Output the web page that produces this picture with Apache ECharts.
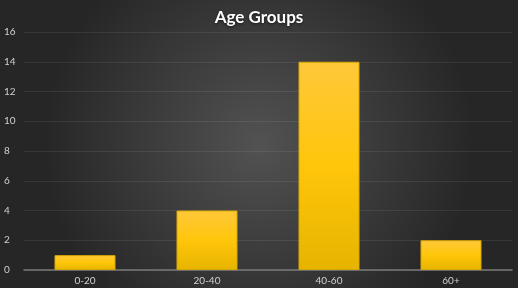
<!DOCTYPE html>
<html><head><meta charset="utf-8">
<script src="https://cdn.jsdelivr.net/npm/echarts@6/dist/echarts.min.js"></script>
<style>html,body{margin:0;padding:0;background:#fff;}#c{position:absolute;left:0;top:0;width:518px;height:288px;}</style>
</head><body><div id="c"></div>
<script>
const categories = ['0-20', '20-40', '40-60', '60+'];
const values = [1, 4, 14, 2];
const yTicks = { min: 0, max: 16, interval: 2 };
const titleText = 'Age Groups';

const chart = echarts.init(document.getElementById('c'));
chart.setOption({
  animation: false,
  backgroundColor: {
    type: 'radial', x: 0.5, y: 0.5, r: 0.75,
    colorStops: [{ offset: 0, color: '#525252' }, { offset: 1, color: '#262626' }]
  },
  title: {
    text: titleText, left: 'center', top: 4,
    textStyle: { color: '#ffffff', fontFamily: 'Lato', fontWeight: 'bold', fontSize: 17,
      textShadowColor: 'rgba(0,0,0,0.6)', textShadowBlur: 3, textShadowOffsetY: 1 }
  },
  grid: { left: 24, right: 6, top: 32, bottom: 18 },
  xAxis: {
    type: 'category', data: categories,
    axisLine: { lineStyle: { color: '#7a7a7a', width: 1.5 } },
    axisTick: { show: false },
    axisLabel: { color: '#d0d0d0', fontFamily: 'Lato', fontSize: 10, margin: 6 }
  },
  yAxis: {
    type: 'value', min: yTicks.min, max: yTicks.max, interval: yTicks.interval,
    axisLine: { show: false }, axisTick: { show: false },
    splitLine: { lineStyle: { color: 'rgba(255,255,255,0.08)', width: 1 } },
    axisLabel: { color: '#d0d0d0', fontFamily: 'Lato', fontSize: 10, align: 'left', margin: 20 }
  },
  series: [{
    type: 'bar', data: values, barWidth: '50%',
    itemStyle: {
      color: { type: 'linear', x: 0, y: 0, x2: 0, y2: 1,
        colorStops: [{ offset: 0, color: '#ffc83a' }, { offset: 0.5, color: '#ffc60a' }, { offset: 1, color: '#e6b400' }] },
      borderColor: '#d9a800', borderWidth: 1
    }
  }]
});
</script></body></html>
